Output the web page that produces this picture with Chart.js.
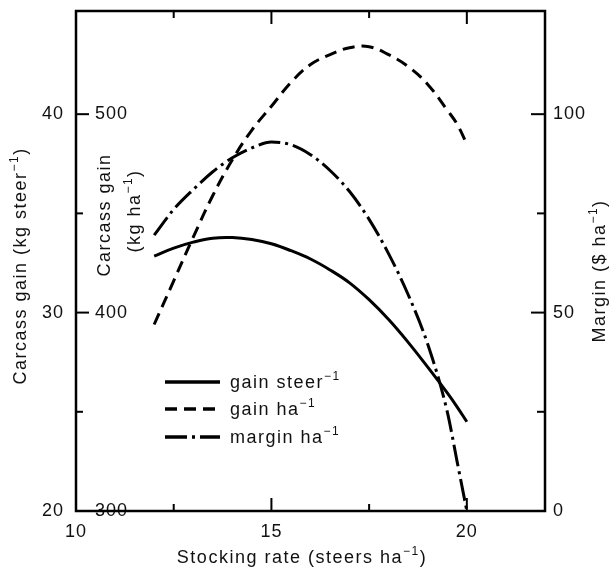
<!DOCTYPE html>
<html>
<head>
<meta charset="utf-8">
<script src="https://cdn.jsdelivr.net/npm/chart.js@4/dist/chart.umd.min.js"></script>
<style>
  html, body { margin: 0; padding: 0; background: #fff; }
  canvas { display: block; }
</style>
</head>
<body>
<canvas id="c" width="609" height="578"></canvas>
<script>
// Stocking rate (steers per ha) and the three response curves
const stockingRate = [12, 12.5, 13, 13.5, 14, 14.5, 15, 15.5, 16, 16.5, 17, 17.5, 18, 18.5, 19, 19.5, 19.75, 20];
const gainPerSteer = [32.85, 33.25, 33.55, 33.75, 33.78, 33.68, 33.47, 33.12, 32.7, 32.15, 31.5, 30.65, 29.65, 28.5, 27.25, 25.95, 25.25, 24.5];
const gainPerHa    = [394, 416, 438, 459, 477, 492, 504, 516, 525, 530, 533.5, 534, 530, 524, 515, 502, 495, 485];
const marginPerHa  = [69.5, 76, 81, 85.5, 89, 91.5, 93, 92.3, 89.8, 85.8, 80.5, 73.5, 64.8, 54.5, 42, 25, 12.5, 0];

// Axis ticks
const xTicks = [10, 15, 20];
const xMinorTicks = [12.5, 17.5];
const steerTicks = [20, 30, 40];
const steerMinorTicks = [25, 35];
const haTicks = [300, 400, 500];
const marginTicks = [0, 50, 100];
const marginMinorTicks = [25, 75];

// Legend entries: base text + superscript
const seriesLabels = [['gain steer', '\u22121'], ['gain ha', '\u22121'], ['margin ha', '\u22121']];

const FONT = '"Liberation Sans", Arial, Helvetica, sans-serif';
const INK = '#111';
const DASHED = [12, 7];
const DASH_DOT = [22, 5, 3, 5];

function toPoints(ys) { return stockingRate.map((x, i) => ({ x, y: ys[i] })); }

// Text with superscript segments: parts = [[text, isSup], ...]
function richText(ctx, parts, x, y, align) {
  const base = '18px ' + FONT, small = '12px ' + FONT;
  ctx.textAlign = 'left';
  ctx.textBaseline = 'alphabetic';
  let w = 0;
  parts.forEach(([t, s]) => { ctx.font = s ? small : base; w += ctx.measureText(t).width; });
  let cx = align === 'center' ? x - w / 2 : x;
  parts.forEach(([t, s]) => {
    ctx.font = s ? small : base;
    ctx.fillText(t, cx, s ? y - 8 : y);
    cx += ctx.measureText(t).width;
  });
}
function rotatedText(ctx, parts, x, y) {
  ctx.save();
  ctx.translate(x, y);
  ctx.rotate(-Math.PI / 2);
  richText(ctx, parts, 0, 0, 'center');
  ctx.restore();
}

const spacing = {
  id: 'spacing',
  beforeDraw(chart) { chart.ctx.letterSpacing = '1px'; }
};

// Box frame with inward ticks on all four sides
const frame = {
  id: 'frame',
  afterDatasetsDraw(chart) {
    const { ctx, chartArea: a, scales } = chart;
    const x = scales.x, y = scales.y, yM = scales.yM;
    ctx.save();
    ctx.strokeStyle = '#000';
    ctx.lineWidth = 2.5;
    ctx.setLineDash([]);
    ctx.strokeRect(a.left, a.top, a.right - a.left, a.bottom - a.top);
    ctx.lineWidth = 2;
    const seg = (x1, y1, x2, y2) => { ctx.beginPath(); ctx.moveTo(x1, y1); ctx.lineTo(x2, y2); ctx.stroke(); };
    const xt = (v, len) => { const p = x.getPixelForValue(v); seg(p, a.bottom, p, a.bottom - len); seg(p, a.top, p, a.top + len); };
    xTicks.forEach(v => xt(v, 13));
    xMinorTicks.forEach(v => xt(v, 7));
    steerTicks.forEach(v => { const p = y.getPixelForValue(v); seg(a.left, p, a.left + 13, p); });
    steerMinorTicks.forEach(v => { const p = y.getPixelForValue(v); seg(a.left, p, a.left + 7, p); });
    marginTicks.forEach(v => { const p = yM.getPixelForValue(v); seg(a.right, p, a.right - 14, p); });
    marginMinorTicks.forEach(v => { const p = yM.getPixelForValue(v); seg(a.right, p, a.right - 8, p); });
    ctx.restore();
  }
};

// Axis titles and the legend block
const annotations = {
  id: 'annotations',
  afterDraw(chart) {
    const { ctx } = chart;
    ctx.save();
    ctx.fillStyle = INK;
    ctx.letterSpacing = '1.5px';
    rotatedText(ctx, [['Carcass gain (kg steer', 0], ['\u22121', 1], [')', 0]], 26, 266);
    rotatedText(ctx, [['Carcass gain', 0]], 110, 215);
    rotatedText(ctx, [['(kg ha', 0], ['\u22121', 1], [')', 0]], 140, 211);
    rotatedText(ctx, [['Margin ($ ha', 0], ['\u22121', 1], [')', 0]], 605, 271);
    richText(ctx, [['Stocking rate (steers ha', 0], ['\u22121', 1], [')', 0]], 302, 563, 'center');

    const rows = [382, 409, 437];
    chart.data.datasets.forEach((ds, i) => {
      const ry = rows[i];
      ctx.strokeStyle = '#000';
      ctx.lineWidth = 3.5;
      ctx.setLineDash(ds.borderDash || []);
      ctx.beginPath();
      ctx.moveTo(165, ry);
      ctx.lineTo(220, ry);
      ctx.stroke();
      ctx.setLineDash([]);
      const [base, sup] = seriesLabels[i];
      richText(ctx, [[base, 0], [sup, 1]], 230, ry + 6, 'left');
    });
    ctx.restore();
  }
};

Chart.defaults.font.family = FONT;
Chart.defaults.font.size = 18;
Chart.defaults.color = INK;

const setTicks = list => scale => { scale.ticks = list.map(v => ({ value: v })); };
const fitVertical = w => s => { s.width = w; s.paddingTop = 0; s.paddingBottom = 0; };

new Chart(document.getElementById('c'), {
  type: 'line',
  data: {
    datasets: [
      { label: 'gain steer-1', data: toPoints(gainPerSteer), yAxisID: 'y',
        borderColor: '#000', borderWidth: 3, pointRadius: 0, tension: 0.4, fill: false },
      { label: 'gain ha-1', data: toPoints(gainPerHa), yAxisID: 'yH',
        borderColor: '#000', borderWidth: 3, borderDash: DASHED, pointRadius: 0, tension: 0.4, fill: false },
      { label: 'margin ha-1', data: toPoints(marginPerHa), yAxisID: 'yM',
        borderColor: '#000', borderWidth: 3, borderDash: DASH_DOT, pointRadius: 0, cubicInterpolationMode: 'monotone', fill: false }
    ]
  },
  options: {
    responsive: false,
    animation: false,
    events: [],
    layout: { padding: { top: 11, left: 0, right: 0, bottom: 0 } },
    plugins: { legend: { display: false }, tooltip: { enabled: false }, title: { display: false } },
    scales: {
      x: {
        type: 'linear', position: 'bottom', min: 10, max: 22,
        grid: { display: false, drawTicks: false }, border: { display: false },
        afterBuildTicks: setTicks(xTicks),
        afterFit: s => { s.height = 67; s.paddingLeft = 0; s.paddingRight = 0; },
        ticks: { padding: 10, color: INK, font: { size: 18 } }
      },
      y: {
        type: 'linear', position: 'left', weight: 1, min: 20, max: 45.2,
        grid: { display: false, drawTicks: false }, border: { display: false },
        afterBuildTicks: setTicks(steerTicks),
        afterFit: fitVertical(76),
        ticks: { padding: 12, color: INK, font: { size: 18 } }
      },
      yH: {
        type: 'linear', position: 'left', weight: 0, min: 300, max: 552,
        grid: { display: false, drawTicks: false }, border: { display: false },
        afterBuildTicks: setTicks(haTicks),
        afterFit: fitVertical(0),
        ticks: { mirror: true, padding: 19, color: INK, font: { size: 18 } }
      },
      yM: {
        type: 'linear', position: 'right', min: 0, max: 126,
        grid: { display: false, drawTicks: false }, border: { display: false },
        afterBuildTicks: setTicks(marginTicks),
        afterFit: fitVertical(64),
        ticks: { padding: 8, color: INK, font: { size: 18 } }
      }
    }
  },
  plugins: [spacing, frame, annotations]
});
</script>
</body>
</html>
